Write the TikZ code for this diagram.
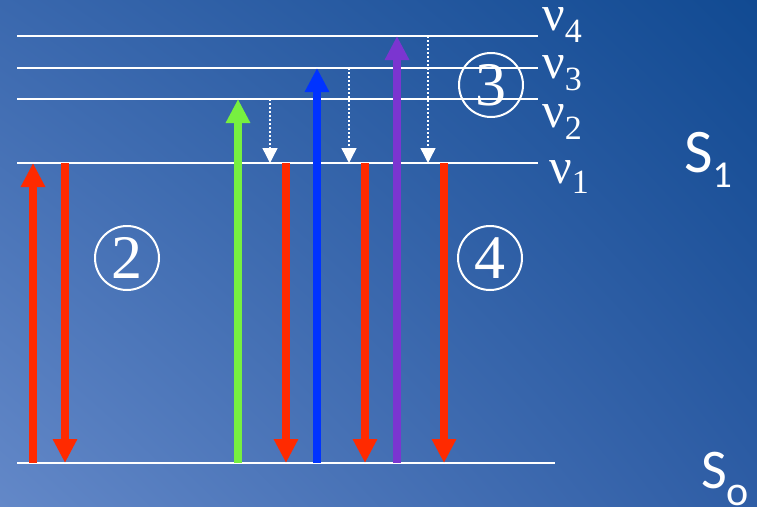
\documentclass[tikz,border=0pt]{standalone}
\usepackage{fontspec}
\setmainfont{Liberation Serif}
\newfontfamily\carl{Carlito}
\usetikzlibrary{arrows.meta,shadings}
\definecolor{bgUL}{HTML}{3A68AE}
\definecolor{bgUR}{HTML}{114A92}
\definecolor{bgLL}{HTML}{6388C8}
\definecolor{bgLR}{HTML}{2E5DA5}
\definecolor{rred}{HTML}{FF2A00}
\definecolor{rgreen}{HTML}{77F040}
\definecolor{rblue}{HTML}{0033FF}
\definecolor{rpurple}{HTML}{7B35D0}
\tikzset{
  level/.style={draw=white, line width=2pt},
  fat/.style={line width=7.5pt, -{Triangle[width=23pt,length=24pt]}},
  relax/.style={draw=white, line width=1.4pt, dash pattern=on 2pt off 2pt,
     -{Triangle[width=15pt,length=15pt]}},
  nulab/.style={text=white, inner sep=0pt, anchor=base west},
  circnum/.style={circle, draw=white, line width=2pt, text=white,
     minimum size=64pt, inner sep=0pt, font=\fontsize{62}{62}\selectfont},
}
\begin{document}
\begin{tikzpicture}[x=1pt, y=-1pt]
\useasboundingbox (0,0) rectangle (757,506);
\shade[upper left=bgUL, upper right=bgUR, lower left=bgLL, lower right=bgLR]
  (0,0) rectangle (757,506);
% level end points
\coordinate (v4a) at (17,36);  \coordinate (v4b) at (538,36);
\coordinate (v3a) at (17,68);  \coordinate (v3b) at (538,68);
\coordinate (v2a) at (17,99);  \coordinate (v2b) at (538,99);
\coordinate (v1a) at (17,163); \coordinate (v1b) at (538,163);
\coordinate (s0a) at (17,463); \coordinate (s0b) at (555,463);
\draw[level] (v4a) -- (v4b);
\draw[level] (v3a) -- (v3b);
\draw[level] (v2a) -- (v2b);
\draw[level] (v1a) -- (v1b);
\draw[level] (s0a) -- (s0b);
% arrow end points
\coordinate (ua1) at (33,463);  \coordinate (ua1t) at (33,163);
\coordinate (da1) at (65,163);  \coordinate (da1t) at (65,463);
\coordinate (ua2) at (238,463); \coordinate (ua2t) at (238,99);
\coordinate (ua3) at (317,463); \coordinate (ua3t) at (317,68);
\coordinate (ua4) at (397,463); \coordinate (ua4t) at (397,36);
\coordinate (da2) at (286,163); \coordinate (da2t) at (286,463);
\coordinate (da3) at (365,163); \coordinate (da3t) at (365,463);
\coordinate (da4) at (444,163); \coordinate (da4t) at (444,463);
\coordinate (rx2) at (270,99);  \coordinate (rx2t) at (270,163);
\coordinate (rx3) at (349,68);  \coordinate (rx3t) at (349,163);
\coordinate (rx4) at (428,36);  \coordinate (rx4t) at (428,163);
\draw[fat, rred] (ua1) -- (ua1t);
\draw[fat, rred] (da1) -- (da1t);
\draw[fat, rgreen] (ua2) -- (ua2t);
\draw[fat, rblue] (ua3) -- (ua3t);
\draw[fat, rpurple] (ua4) -- (ua4t);
\draw[fat, rred] (da2) -- (da2t);
\draw[fat, rred] (da3) -- (da3t);
\draw[fat, rred] (da4) -- (da4t);
\draw[relax] (rx2) -- (rx2t);
\draw[relax] (rx3) -- (rx3t);
\draw[relax] (rx4) -- (rx4t);
% nu labels
\node[nulab] (n4) at (542,30) {\fontsize{50}{50}\selectfont ν\raisebox{-12pt}{\fontsize{34}{34}\selectfont 4}};
\node[nulab] (n3) at (542,78) {\fontsize{50}{50}\selectfont ν\raisebox{-12pt}{\fontsize{34}{34}\selectfont 3}};
\node[nulab] (n2) at (542,127) {\fontsize{50}{50}\selectfont ν\raisebox{-12pt}{\fontsize{34}{34}\selectfont 2}};
\node[nulab] (n1) at (549,183) {\fontsize{50}{50}\selectfont ν\raisebox{-10pt}{\fontsize{34}{34}\selectfont 1}};
% circled numbers
\node[circnum] (c2) at (127,258) {2};
\node[circnum] (c3) at (491,85) {3};
\node[circnum] (c4) at (490,258) {4};
% state labels
\node[nulab, font=\carl] (s1) at (684,172) {\fontsize{62}{62}\selectfont S\raisebox{-15pt}{\fontsize{38}{38}\selectfont 1}};
\node[nulab, font=\carl] (s0) at (701,488) {\fontsize{56}{56}\selectfont S\raisebox{-17pt}{\fontsize{42}{42}\selectfont o}};
\end{tikzpicture}
\end{document}
